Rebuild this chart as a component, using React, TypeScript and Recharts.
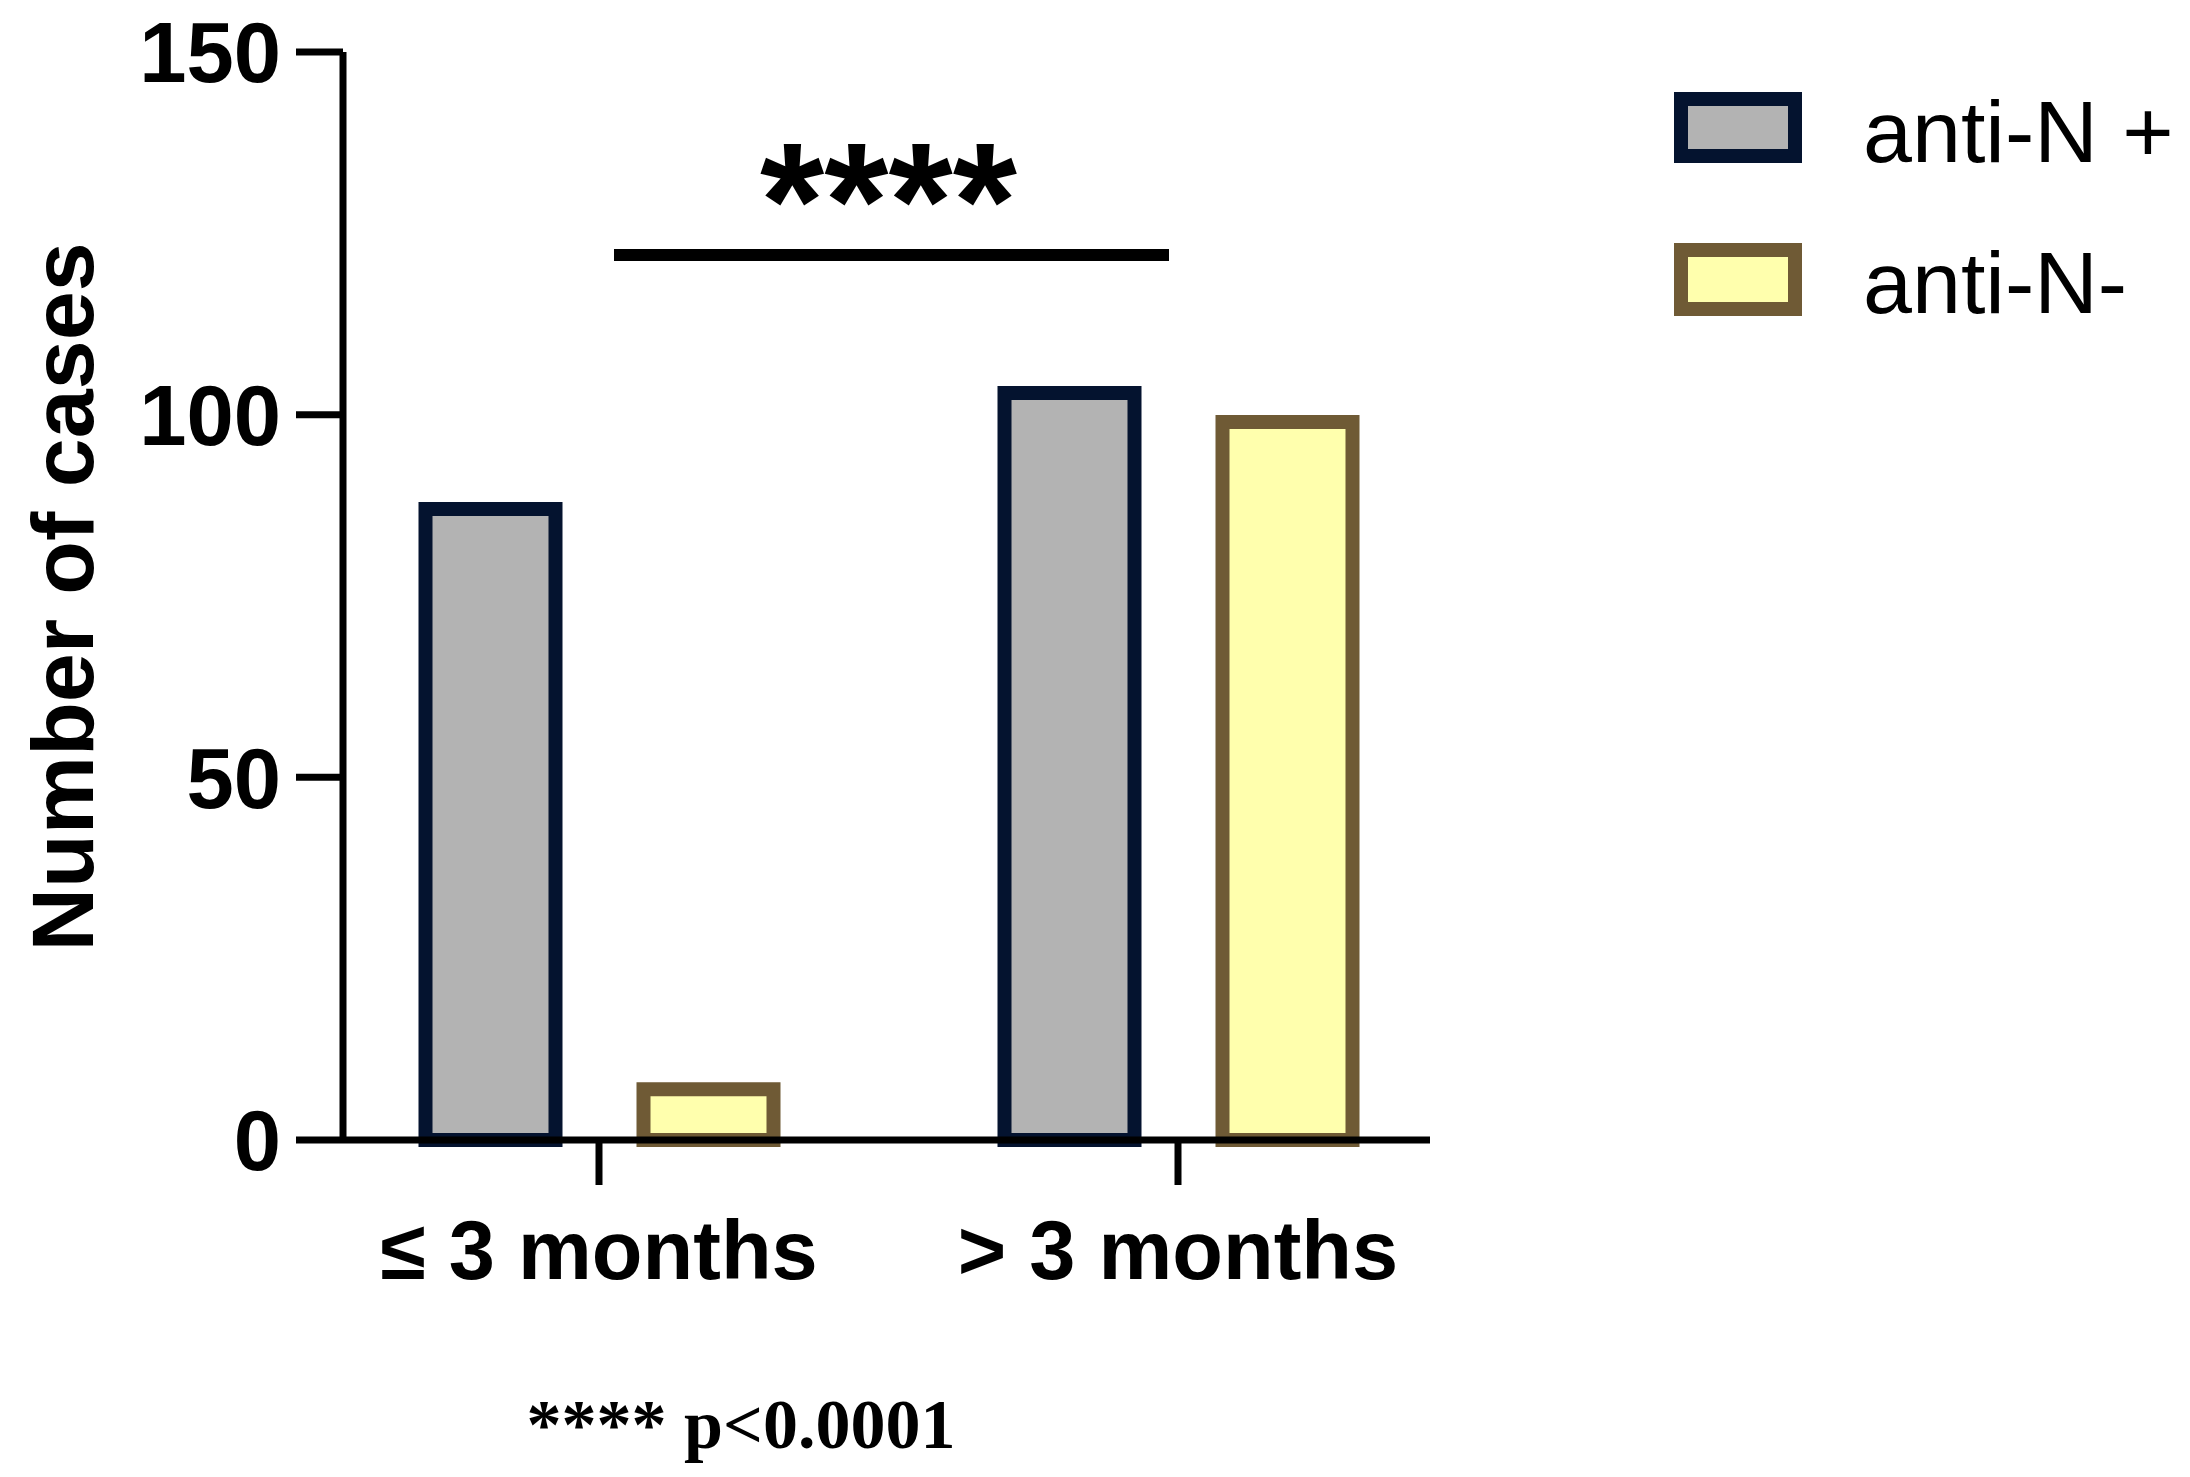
import React from 'react'
import { BarChart, Bar, XAxis, YAxis, ReferenceLine } from 'recharts'

// values
const categories = ['≤ 3 months', '> 3 months']
const antiNPos = [87, 103]
const antiNNeg = [7, 99]
const yTicks = [0, 50, 100, 150]
const seriesLabels = ['anti-N +', 'anti-N-']
const sigStars = '****'
const sigLevel = 122
const footnote = '**** p<0.0001'
const yTitle = 'Number of cases'

const GRAY = '#b3b3b3'
const NAVY = '#04132f'
const YELLOW = '#ffffad'
const BROWN = '#6f5a35'
const SANS = '"Liberation Sans", Arial, sans-serif'
const SERIF = '"Liberation Serif", "Times New Roman", serif'

const data = categories.map((name, i) => ({ name, pos: antiNPos[i], neg: antiNNeg[i] }))

const legendItems = [
  { label: seriesLabels[0], fill: GRAY, stroke: NAVY, top: 92, h: 71 },
  { label: seriesLabels[1], fill: YELLOW, stroke: BROWN, top: 243, h: 73 },
]

// bracket sits a little inside the two category centres
function Bracket(p: any) {
  return <line x1={p.x1 + 15} y1={p.y1} x2={p.x2 - 9} y2={p.y2} stroke="#000" strokeWidth={12} />
}

export default function App() {
  const axisStroke = { stroke: '#000', strokeWidth: 7 }
  return (
    <div style={{ position: 'absolute', left: 0, top: 0, width: 2190, height: 1477, background: '#fff' }}>
      <BarChart
        width={2190}
        height={1477}
        data={data}
        margin={{ top: 52, right: 760, bottom: 237, left: 43 }}
        barSize={130}
        barGap={88}
      >
        <Bar dataKey="pos" fill={GRAY} stroke={NAVY} strokeWidth={14} isAnimationActive={false} />
        <Bar dataKey="neg" fill={YELLOW} stroke={BROWN} strokeWidth={14} isAnimationActive={false} />
        <XAxis
          dataKey="name"
          height={100}
          padding={{ left: -33.5, right: -37.5 }}
          interval={0}
          tickSize={45}
          tickMargin={35}
          axisLine={axisStroke}
          tickLine={axisStroke}
          tick={{ fontSize: 83, fontWeight: 700, fill: '#000', fontFamily: SANS }}
        />
        <YAxis
          domain={[0, 150]}
          ticks={yTicks}
          interval={0}
          width={300}
          tickSize={47}
          tickMargin={15}
          axisLine={axisStroke}
          tickLine={axisStroke}
          tick={{ fontSize: 85, fontWeight: 700, fill: '#000', fontFamily: SANS }}
        />
        <ReferenceLine
          segment={[{ x: categories[0], y: sigLevel }, { x: categories[1], y: sigLevel }]}
          stroke="#000"
          strokeWidth={12}
          ifOverflow="visible"
          shape={Bracket}
          label={{ value: sigStars, position: 'top', offset: -3, fontSize: 165, fontWeight: 700, fill: '#000', fontFamily: SANS }}
        />
      </BarChart>
      <svg
        width={2190}
        height={1477}
        style={{ position: 'absolute', left: 0, top: 0, pointerEvents: 'none' }}
      >
        <text transform="translate(93 597) rotate(-90)" textAnchor="middle" fontFamily={SANS} fontWeight={700} fontSize={88} fill="#000">
          {yTitle}
        </text>
        {legendItems.map((it) => (
          <g key={it.label}>
            <rect x={1681} y={it.top + 7} width={114} height={it.h - 14} fill={it.fill} stroke={it.stroke} strokeWidth={14} />
            <text x={1863} y={it.top + 70} fontFamily={SANS} fontSize={88} fill="#000">
              {it.label}
            </text>
          </g>
        ))}
        <text x={741} y={1448} textAnchor="middle" fontFamily={SERIF} fontWeight={700} fontSize={70} fill="#000">
          {footnote}
        </text>
      </svg>
    </div>
  )
}
